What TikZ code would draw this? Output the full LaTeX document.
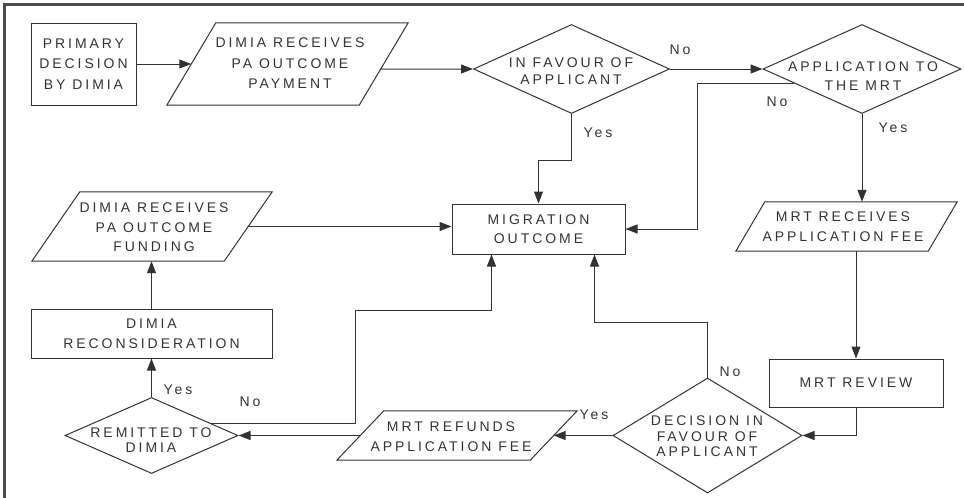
\documentclass[tikz,border=0pt]{standalone}
\usepackage{fontspec}
\setmainfont{Liberation Sans}[LetterSpace=21]
\usetikzlibrary{shapes.geometric,arrows.meta,calc}
\definecolor{ink}{HTML}{333333}
\newcommand\drawpara[2]{\draw[base] (#1.south west) -- ($(#1.north west)+(#2,0)$) -- (#1.north east) -- ($(#1.south east)+(-#2,0)$) -- cycle;}
\begin{document}
\begin{tikzpicture}[x=1pt,y=-1pt,
  every node/.style={font=\fontsize{14}{20.5}\selectfont, text=ink},
  base/.style={draw=ink, line width=1pt, inner sep=0pt},
  rbox/.style={base, rectangle, align=center},
  pbox/.style={rectangle, inner sep=0pt, align=center},
  dia/.style={base, diamond},
  txt/.style={align=center, inner sep=0pt},
  lab/.style={inner sep=0pt},
  conn/.style={draw=ink, line width=1pt},
  arr/.style={conn, -{Triangle[length=12pt,width=9pt]}}]
\useasboundingbox (0,0) rectangle (964,498);
% frame
\draw[line width=2.5pt, draw=black!70] (4.5,498) -- (4.5,4.7) -- (964,4.7);

% nodes
\node[rbox, minimum width=105pt, minimum height=82pt] (prim) at (83.5,64) {PRIMARY\\DECISION\\BY DIMIA};

\node[pbox, minimum width=241pt, minimum height=82pt] (pay) at (287.5,64) {};
\drawpara{pay}{49}
\node[txt] (payt) at (290,63.5) {DIMIA RECEIVES\\PA OUTCOME\\PAYMENT};

\node[dia, minimum width=196pt, minimum height=89pt] (fav) at (571.5,69) {};
\node[txt, font=\fontsize{14}{17}\selectfont] (favt) at (571,71.5) {IN FAVOUR OF\\APPLICANT};

\node[dia, minimum width=198pt, minimum height=89pt] (app) at (862,69) {};
\node[txt, font=\fontsize{14}{19}\selectfont] (appt) at (863,76.5) {APPLICATION TO\\THE MRT};

\node[rbox, minimum width=173pt, minimum height=50pt, font=\fontsize{14}{19}\selectfont] (mig) at (538.5,229) {MIGRATION\\OUTCOME};

\node[pbox, minimum width=221pt, minimum height=49pt] (mrtfee) at (846.5,226.5) {};
\drawpara{mrtfee}{29}
\node[txt, font=\fontsize{14}{20}\selectfont] (mrtfeet) at (843,227) {MRT RECEIVES\\APPLICATION FEE};

\node[rbox, minimum width=174pt, minimum height=48pt] (rev) at (856,383) {MRT REVIEW};

\node[dia, minimum width=189pt, minimum height=115pt] (dec) at (707.5,435.5) {};
\node[txt, font=\fontsize{14}{15.5}\selectfont] (dect) at (707,436.5) {DECISION IN\\FAVOUR OF\\APPLICANT};

\node[pbox, minimum width=240pt, minimum height=49pt] (refund) at (457,435.5) {};
\drawpara{refund}{47}
\node[txt, font=\fontsize{14}{20}\selectfont] (refundt) at (451,437) {MRT REFUNDS\\APPLICATION FEE};

\node[dia, minimum width=173pt, minimum height=76pt] (rem) at (151.5,435.5) {};
\node[txt, font=\fontsize{14}{15}\selectfont] (remt) at (151,440.5) {REMITTED TO\\DIMIA};

\node[rbox, minimum width=241pt, minimum height=49pt, font=\fontsize{14}{20}\selectfont] (recon) at (151.5,333.5) {DIMIA\\RECONSIDERATION};

\node[pbox, minimum width=240pt, minimum height=69pt] (fund) at (152,226.5) {};
\drawpara{fund}{48}
\node[txt, font=\fontsize{14}{19.5}\selectfont] (fundt) at (154,227.5) {DIMIA RECEIVES\\PA OUTCOME\\FUNDING};

% labels
\node[lab] (l1) at (680,50) {No};
\node[lab] (l2) at (777,102) {No};
\node[lab] (l3) at (598,133) {Yes};
\node[lab] (l4) at (893,128) {Yes};
\node[lab] (l5) at (730,372) {No};
\node[lab] (l6) at (594,415) {Yes};
\node[lab] (l7) at (178,390) {Yes};
\node[lab] (l8) at (250,402) {No};

% connectors
\draw[arr] (prim.east) -- ($(pay.west)+(24.5,0)$);
\draw[arr] ($(pay.north east)!0.561!(pay.south east)+(-27.5,0)$) -- (fav.west);
\draw[arr] (fav.east) -- (app.west);
\draw[arr] (fav.south) -- ++(0,46) -| (mig.north);
\draw[arr] ($(app.west)!0.32!(app.south)$) -| ($(mig.east)+(72,0)$) -- (mig.east);
\draw[arr] (app.south) -- (app.south |- mrtfee.north);
\draw[arr] (rev.north |- mrtfee.south) -- (rev.north);
\draw[arr] (rev.south) |- (dec.east);
\draw[arr] (dec.north) -- ++(0,-55) -| ($(mig.south east)+(-31,0)$);
\draw[arr] (dec.west) -- ($(refund.east)+(-23.5,0)$);
\draw[arr] ($(refund.west)+(23.5,0)$) -- (rem.east);
\draw[arr] (rem.north) -- (recon.south);
\draw[arr] ($(rem.north)!0.684!(rem.east)$) -| ($(mig.south west)+(-96,56)$) -| ($(mig.south west)+(40,0)$);
\draw[arr] (recon.north) -- (recon.north |- fund.south);
\draw[arr] ($(fund.east)+(-24,0)$) -- (fund.east -| mig.west);
\end{tikzpicture}
\end{document}
